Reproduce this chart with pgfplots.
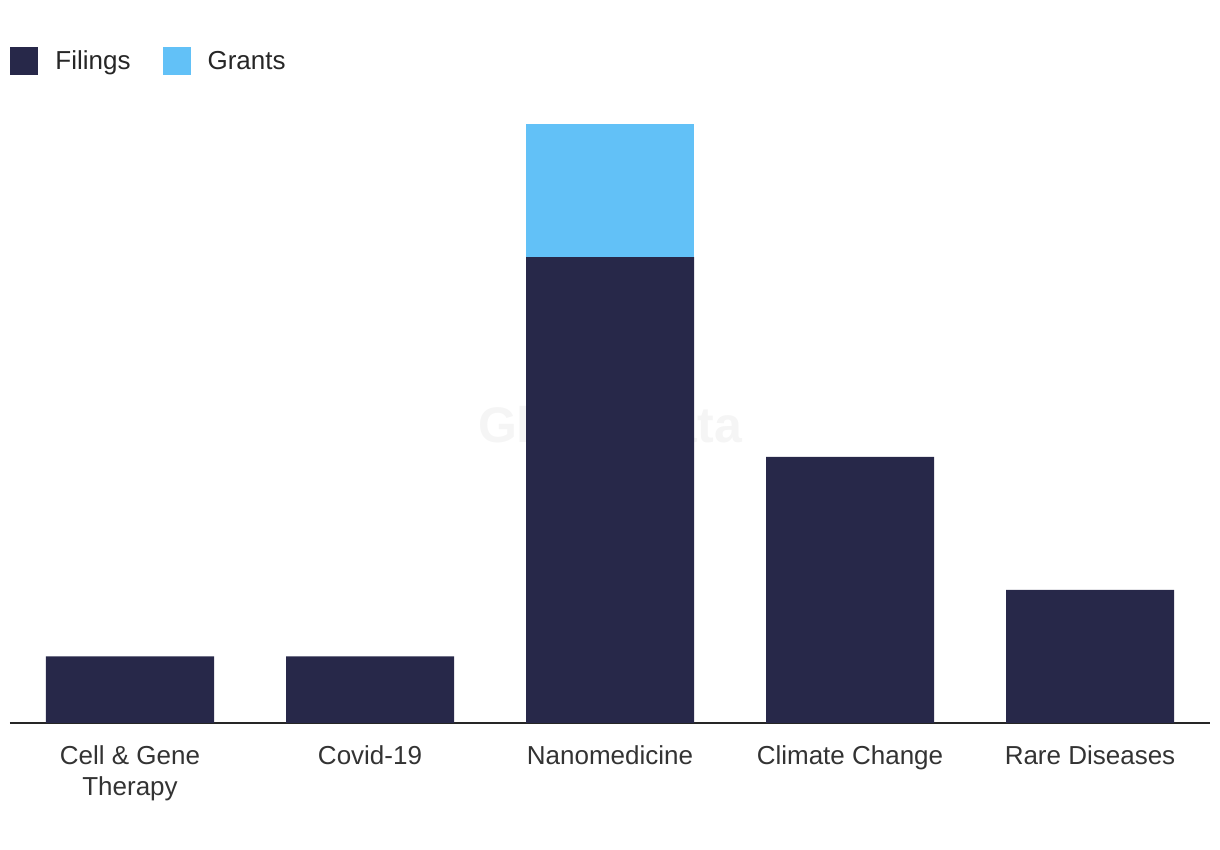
\documentclass[border=0pt]{standalone}
\usepackage{fontspec}
\setmainfont{Liberation Sans}
\usepackage{pgfplots}
\pgfplotsset{compat=1.18}
\definecolor{filings}{HTML}{272849}
\definecolor{grants}{HTML}{62C1F7}
\definecolor{txt}{HTML}{333333}
\definecolor{wm}{HTML}{CFCFCF}
\begin{document}
\begin{tikzpicture}
\useasboundingbox (-5pt,-63.5pt) rectangle (605pt,361.5pt);
\begin{axis}[
  at={(0,0)}, anchor=south west, scale only axis,
  width=600pt, height=299.5pt,
  ymin=0, ymax=9, xmin=-0.5, xmax=4.5,
  ybar stacked, bar width=84pt,
  axis x line*=bottom, axis y line=none,
  ytick=\empty,
  xtick={0,1,2,3,4},
  xticklabels={{Cell \& Gene\\Therapy},{Covid-19},{Nanomedicine},{Climate Change},{Rare Diseases}},
  major tick length=0pt,
  xticklabel style={align=center, font=\fontsize{13}{15.5}\selectfont, text=txt, yshift=-8pt},
  x axis line style={draw=black!85, line width=1pt},
  legend style={at={(0,1.130)}, anchor=north west, draw=none, fill=none,
    legend columns=2, font=\fontsize{13}{15}\selectfont, text=black!85,
    /tikz/every odd column/.append style={column sep=6.5pt},
    /tikz/every even column/.append style={column sep=14pt},
    legend cell align=left, inner sep=0pt},
  legend image code/.code={\fill[#1] (0pt,-7pt) rectangle (14pt,7pt);},
]
\addplot[fill=filings, draw=none] coordinates {(0,1) (1,1) (2,7) (3,4) (4,2)};
\addplot[fill=grants, draw=none] coordinates {(0,0) (1,0) (2,2) (3,0) (4,0)};
\legend{Filings, Grants}
\node[font=\bfseries\fontsize{25}{25}\selectfont, text=wm, opacity=0.21] at (axis cs:2,4.48) {GlobalData};
\end{axis}
\end{tikzpicture}
\end{document}
